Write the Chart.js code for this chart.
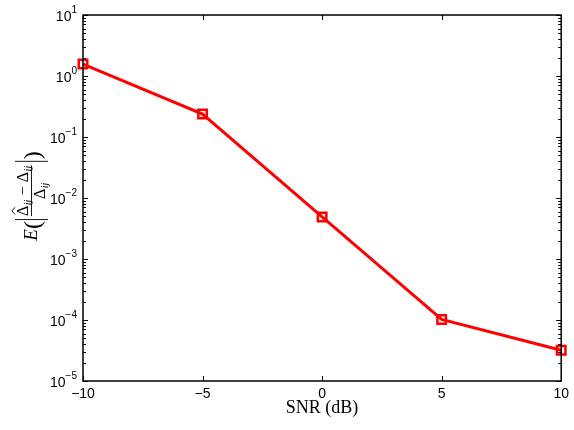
<!DOCTYPE html>
<html><head><meta charset="utf-8">
<script src="https://cdn.jsdelivr.net/npm/chart.js@4"></script>
<style>html,body{margin:0;padding:0;background:#fff}#w{width:574px;height:430px}</style>
</head><body><div id="w"><canvas id="c" width="574" height="430"></canvas></div>
<script>
const snr = [-10, -5, 0, 5, 10];
const errVals = [1.57, 0.238, 0.0049, 1.02e-4, 3.2e-5];
const xTicks = [-10, -5, 0, 5, 10];
const yExps = [-5, -4, -3, -2, -1, 0, 1];
const xTitle = 'SNR (dB)';

const SERIF = '"Liberation Serif", "DejaVu Serif", serif';
const SANS = '"Liberation Sans", Arial, sans-serif';

const frame = {
  id: 'frame',
  afterDatasetsDraw(chart) {
    const ctx = chart.ctx, a = chart.chartArea;
    const xs = chart.scales.x, ys = chart.scales.y;
    ctx.save();
    ctx.strokeStyle = '#000'; ctx.lineWidth = 1.5;
    ctx.strokeRect(a.left, a.top, a.right - a.left, a.bottom - a.top);
    ctx.lineWidth = 1;
    ctx.beginPath();
    xTicks.forEach(v => {
      const p = Math.round(xs.getPixelForValue(v)) + 0.5;
      ctx.moveTo(p, a.bottom); ctx.lineTo(p, a.bottom - 5);
      ctx.moveTo(p, a.top); ctx.lineTo(p, a.top + 5);
    });
    yExps.forEach(e => {
      const p = Math.round(ys.getPixelForValue(Math.pow(10, e))) + 0.5;
      ctx.moveTo(a.left, p); ctx.lineTo(a.left + 5, p);
      ctx.moveTo(a.right, p); ctx.lineTo(a.right - 5, p);
      if (e < 1) {
        for (let m = 2; m <= 9; m++) {
          const q = Math.round(ys.getPixelForValue(m * Math.pow(10, e))) + 0.5;
          ctx.moveTo(a.left, q); ctx.lineTo(a.left + 3, q);
          ctx.moveTo(a.right, q); ctx.lineTo(a.right - 3, q);
        }
      }
    });
    ctx.stroke();
    // y tick labels with superscripts
    ctx.fillStyle = '#000';
    ctx.textBaseline = 'alphabetic';
    yExps.forEach(e => {
      const p = ys.getPixelForValue(Math.pow(10, e));
      const sup = e < 0 ? '\u2212' + Math.abs(e) : String(e);
      ctx.font = '10px ' + SANS;
      const sw = ctx.measureText(sup).width;
      const right = a.left - 6;
      ctx.textAlign = 'left';
      ctx.fillText(sup, right - sw, p - 2);
      ctx.font = '14px ' + SANS;
      ctx.textAlign = 'right';
      ctx.fillText('10', right - sw, p + 6);
    });
    // y axis title (rotated)
    ctx.save();
    ctx.translate(31, (a.top + a.bottom) / 2 - 2);
    ctx.rotate(-Math.PI / 2);
    ctx.textAlign = 'left';
    const fE = 'italic 19px ' + SERIF;
    const fPar = '24px ' + SERIF;
    const fD = '16px ' + SERIF;
    const fS = 'italic 10px ' + SERIF;
    ctx.font = fE; const wE = ctx.measureText('E').width;
    ctx.font = fPar; const wL = ctx.measureText('(').width;
    ctx.font = fD; const wD = ctx.measureText('\u0394').width;
    ctx.font = fS; const wS = ctx.measureText('ij').width + 1;
    ctx.font = fD; const wMin = ctx.measureText('\u2212').width;
    const wM = wMin + 8;
    const numW = wD + wS + wM + wD + wS;
    const total = wE + wL + 5 + numW + 5 + wL + 1;
    let x = -total / 2;
    ctx.font = fE; ctx.fillText('E', x, 6); x += wE;
    ctx.font = fPar; ctx.fillText('(', x, 9); x += wL;
    ctx.lineWidth = 0.9;
    ctx.beginPath(); ctx.moveTo(x + 1.5, -16); ctx.lineTo(x + 1.5, 17); ctx.stroke();
    x += 5;
    const fx = x;
    // numerator
    let nx = fx; const ny = -3;
    ctx.font = fD; ctx.fillText('\u0394', nx, ny);
    ctx.beginPath();
    ctx.moveTo(nx + 1.5, ny - 13); ctx.lineTo(nx + wD / 2, ny - 16); ctx.lineTo(nx + wD - 1.5, ny - 13);
    ctx.stroke();
    nx += wD;
    ctx.font = fS; ctx.fillText('ij', nx + 0.5, ny + 3); nx += wS;
    ctx.font = fD; ctx.fillText('\u2212', nx + 4, ny); nx += wM;
    ctx.fillText('\u0394', nx, ny); nx += wD;
    ctx.font = fS; ctx.fillText('ij', nx + 0.5, ny + 3);
    // bar
    ctx.beginPath(); ctx.moveTo(fx, 0.5); ctx.lineTo(fx + numW, 0.5); ctx.stroke();
    // denominator
    let dx = fx + numW / 2 - (wD + wS) / 2;
    ctx.font = fD; ctx.fillText('\u0394', dx, 14); dx += wD;
    ctx.font = fS; ctx.fillText('ij', dx + 0.5, 17);
    x = fx + numW + 4;
    ctx.beginPath(); ctx.moveTo(x, -16); ctx.lineTo(x, 17); ctx.stroke();
    x += 2;
    ctx.font = fPar; ctx.fillText(')', x, 9);
    ctx.restore();
    // x title
    ctx.font = '18px ' + SERIF;
    ctx.textAlign = 'center';
    ctx.fillText(xTitle, (a.left + a.right) / 2, 413);
    ctx.restore();
  }
};

new Chart(document.getElementById('c'), {
  type: 'line',
  data: {
    datasets: [{
      data: snr.map((v, i) => ({x: v, y: errVals[i]})),
      borderColor: '#ff0000',
      borderWidth: 3,
      pointStyle: 'rect',
      pointRadius: 6,
      pointBorderWidth: 2.5,
      pointBorderColor: '#ff0000',
      pointBackgroundColor: 'rgba(255,255,255,0)',
      tension: 0,
      clip: false
    }]
  },
  options: {
    responsive: false,
    animation: false,
    layout: {padding: {left: 0, right: 8, top: 15, bottom: 0}},
    plugins: {legend: {display: false}, tooltip: {enabled: false}},
    scales: {
      x: {
        type: 'linear', min: -10, max: 10,
        afterBuildTicks: s => { s.ticks = xTicks.map(v => ({value: v})); },
        afterFit: s => { s.height = 49; },
        grid: {display: false, drawTicks: false},
        border: {display: false},
        ticks: {
          padding: 5, color: '#000',
          font: {family: SANS, size: 14},
          maxRotation: 0, autoSkip: false,
          callback: v => (v < 0 ? '\u2212' + Math.abs(v) : String(v))
        }
      },
      y: {
        type: 'logarithmic', min: 1e-5, max: 10,
        afterFit: s => { s.width = 83; },
        grid: {display: false, drawTicks: false},
        border: {display: false},
        ticks: {display: false}
      }
    }
  },
  plugins: [frame]
});
</script></body></html>
